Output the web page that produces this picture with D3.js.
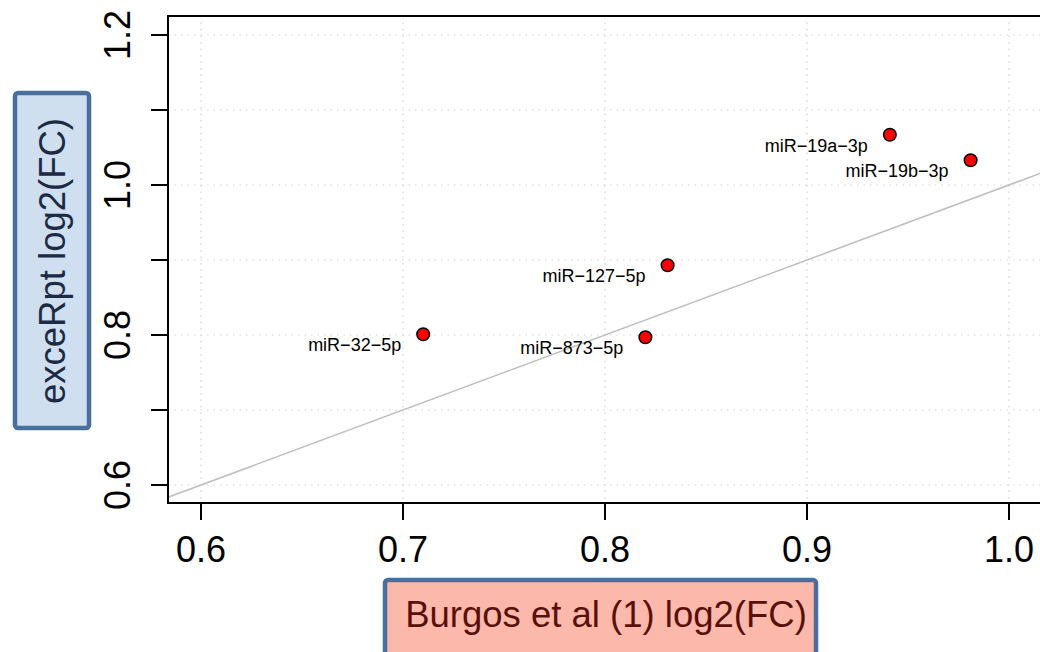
<!DOCTYPE html>
<html>
<head>
<meta charset="utf-8">
<script src="https://cdn.jsdelivr.net/npm/d3@7"></script>
<style>
  body { margin: 0; background: #fff; }
  text { font-family: "Liberation Sans", Arial, sans-serif; }
</style>
</head>
<body>
<div id="chart"></div>
<script>
// data
const mirnas = ['miR-19a-3p', 'miR-19b-3p', 'miR-127-5p', 'miR-873-5p', 'miR-32-5p'];
const burgosFC = [0.941, 0.981, 0.831, 0.820, 0.710];
const exceRptFC = [1.067, 1.033, 0.893, 0.797, 0.801];
const xTicks = [0.6, 0.7, 0.8, 0.9, 1.0];
const yTicks = [0.6, 0.8, 1.0, 1.2];
const yGrid = [0.6, 0.7, 0.8, 0.9, 1.0, 1.1, 1.2];

const width = 1040;
const height = 652;
const plotL = 168, plotT = 16, plotB = 503, plotR = 1070;

const svg = d3.select('#chart').append('svg')
    .attr('width', width)
    .attr('height', height);

const x = d3.scaleLinear().domain([0.6, 1.0]).range([201, 1009]);
const y = d3.scaleLinear().domain([0.6, 1.2]).range([485, 35]);

// grid
const grid = svg.append('g').attr('stroke', '#d3d3d3').attr('stroke-dasharray', '1.5,5').attr('stroke-width', 1.2);
grid.selectAll('.gx').data(xTicks).enter().append('line')
    .attr('x1', d => x(d)).attr('x2', d => x(d))
    .attr('y1', plotT).attr('y2', plotB);
grid.selectAll('.gy').data(yGrid).enter().append('line')
    .attr('x1', plotL).attr('x2', plotR)
    .attr('y1', d => y(d)).attr('y2', d => y(d));

// y = x line
const x0 = x.invert(plotL), x1 = x.invert(plotR);
svg.append('line')
    .attr('x1', plotL).attr('y1', y(x0))
    .attr('x2', plotR).attr('y2', y(x1))
    .attr('stroke', '#bdbdbd').attr('stroke-width', 1.5);

// frame
svg.append('path')
    .attr('d', `M${plotR},${plotT}H${plotL}V${plotB}H${plotR}`)
    .attr('fill', 'none').attr('stroke', '#000').attr('stroke-width', 2);

// x axis
const xAxis = svg.append('g');
xAxis.selectAll('line').data(xTicks).enter().append('line')
    .attr('x1', d => x(d)).attr('x2', d => x(d))
    .attr('y1', plotB).attr('y2', plotB + 17)
    .attr('stroke', '#000').attr('stroke-width', 2);
xAxis.selectAll('text').data(xTicks).enter().append('text')
    .attr('x', d => x(d)).attr('y', 562)
    .attr('text-anchor', 'middle')
    .attr('font-size', 36)
    .text(d => d3.format('.1f')(d));

// y axis
const yAxis = svg.append('g');
yAxis.selectAll('line').data(yGrid).enter().append('line')
    .attr('x1', plotL - 17).attr('x2', plotL)
    .attr('y1', d => y(d)).attr('y2', d => y(d))
    .attr('stroke', '#000').attr('stroke-width', 2);
yAxis.selectAll('text').data(yTicks).enter().append('text')
    .attr('transform', d => `translate(130,${y(d)}) rotate(-90)`)
    .attr('text-anchor', 'middle')
    .attr('font-size', 36)
    .text(d => d3.format('.1f')(d));

// points + labels
const pts = svg.append('g');
mirnas.forEach((name, i) => {
    const px = x(burgosFC[i]), py = y(exceRptFC[i]);
    pts.append('circle')
        .attr('cx', px).attr('cy', py).attr('r', 6.3)
        .attr('fill', '#ff0000').attr('stroke', '#000').attr('stroke-width', 1.5);
    pts.append('text')
        .attr('x', px - 22).attr('y', py + 17)
        .attr('text-anchor', 'end')
        .attr('font-size', 18)
        .text(name.replace(/-/g, '\u2212'));
});

// axis title boxes
svg.append('rect')
    .attr('x', 15).attr('y', 93).attr('width', 74).attr('height', 335)
    .attr('rx', 3)
    .attr('fill', '#cfdff0').attr('stroke', '#4a6f9c').attr('stroke-width', 4.5);
svg.append('text')
    .attr('transform', 'translate(65,261) rotate(-90)')
    .attr('text-anchor', 'middle')
    .attr('font-size', 36.5)
    .attr('fill', '#1c2a44')
    .text('exceRpt log2(FC)');

svg.append('rect')
    .attr('x', 385).attr('y', 580).attr('width', 431).attr('height', 90)
    .attr('rx', 3)
    .attr('fill', '#fcb9ab').attr('stroke', '#4a6f9c').attr('stroke-width', 4.5);
svg.append('text')
    .attr('x', 606).attr('y', 627)
    .attr('text-anchor', 'middle')
    .attr('font-size', 36.5)
    .attr('fill', '#5a100a')
    .text('Burgos et al (1) log2(FC)');
</script>
</body>
</html>
